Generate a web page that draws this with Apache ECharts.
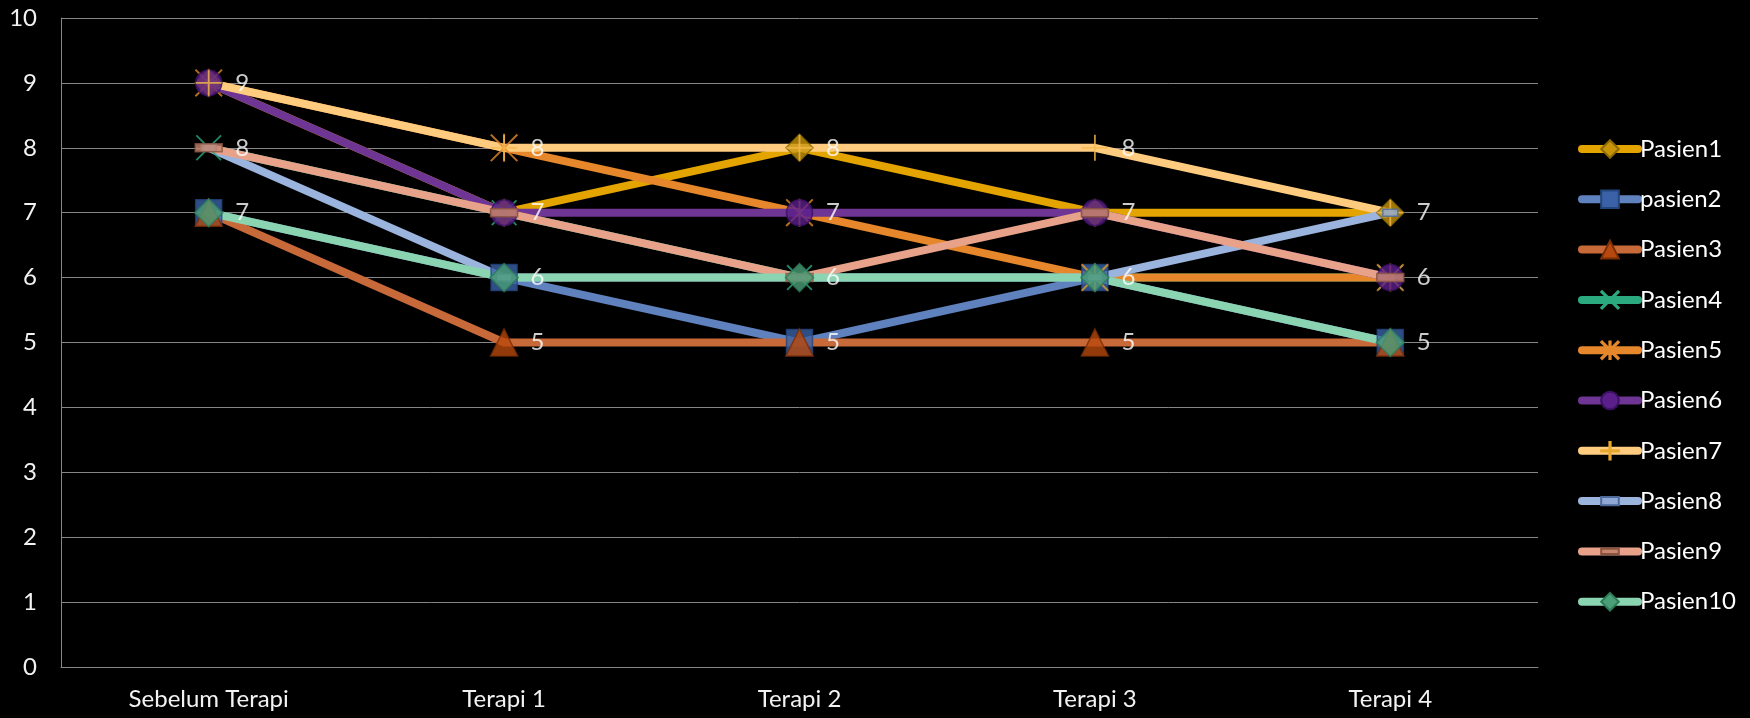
<!DOCTYPE html>
<html>
<head>
<meta charset="utf-8">
<script src="https://cdn.jsdelivr.net/npm/echarts@6/dist/echarts.min.js"></script>
<style>
html,body{margin:0;padding:0;background:#000;}
#chart{width:1750px;height:718px;}
</style>
</head>
<body>
<div id="chart"></div>
<script>
const categories = ['Sebelum Terapi', 'Terapi 1', 'Terapi 2', 'Terapi 3', 'Terapi 4'];
const yTicks = [0, 1, 2, 3, 4, 5, 6, 7, 8, 9, 10];

const seriesNames = ['Pasien1', 'pasien2', 'Pasien3', 'Pasien4', 'Pasien5', 'Pasien6', 'Pasien7', 'Pasien8', 'Pasien9', 'Pasien10'];
const pasien1 = [9, 7, 8, 7, 7];
const pasien2 = [7, 6, 5, 6, 5];
const pasien3 = [7, 5, 5, 5, 5];
const pasien4 = [8, 7, 6, 6, 6];
const pasien5 = [9, 8, 7, 6, 6];
const pasien6 = [9, 7, 7, 7, 6];
const pasien7 = [9, 8, 8, 8, 7];
const pasien8 = [8, 6, 6, 6, 7];
const pasien9 = [8, 7, 6, 7, 6];
const pasien10 = [7, 6, 6, 6, 5];
const allValues = [pasien1, pasien2, pasien3, pasien4, pasien5, pasien6, pasien7, pasien8, pasien9, pasien10];

const lineColors = ['#E3A400', '#5F82BE', '#C8693A', '#2BAA80', '#E5872A', '#6F3594', '#FFCC7F', '#9AB4DE', '#E8A28A', '#8AD4B2'];
const markerFill = ['#C8940A', '#3B62A6', '#B8480E', '#2BAA80', '#E5872A', '#5B1F8C', '#F5B94A', '#8FA9D4', '#C8866E', '#4A9E78'];
const markerBorder = ['#8B6A00', '#23467E', '#7A2E05', '#2BAA80', '#E5872A', '#3A1060', '#E8A830', '#4E6A9A', '#8A5540', '#2E7A58'];

const XPATH = 'path://M0,1 L1,0 L20,19 L19,20 Z M19,0 L20,1 L1,20 L0,19 Z';
const STARPATH = 'path://M0,1 L1,0 L20,19 L19,20 Z M19,0 L20,1 L1,20 L0,19 Z M9.3,0 H10.7 V20 H9.3 Z';
const PLUSPATH = 'path://M9.3,0 H10.7 V20 H9.3 Z M0,9.3 H20 V10.7 H0 Z';
const RECT8 = 'path://M0,-4 M0,0 H15 V7 H0 Z M0,11';
const RECT9 = 'path://M0,-9.5 M0,0 H27 V8 H0 Z M0,17.5';
const symbols = ['diamond', 'rect', 'triangle', XPATH, STARPATH, 'circle', PLUSPATH, RECT8, RECT9, 'diamond'];
const symbolSizes = [27, 26, 27, 26, 28, 26, 26, 15, 27, 28];

const FONT = 'Lato, "Liberation Sans", sans-serif';

const series = [];
allValues.forEach(function (vals, i) {
  series.push({
    name: seriesNames[i],
    type: 'line',
    data: vals,
    z: 2,
    showSymbol: false,
    symbol: symbols[i],
    lineStyle: { color: lineColors[i], width: 8, cap: 'round', join: 'round' },
    itemStyle: { color: markerFill[i], borderColor: markerBorder[i], borderWidth: 1 },
    emphasis: { disabled: true },
    animation: false
  });
});
allValues.forEach(function (vals, i) {
  const thin = (i === 3 || i === 4 || i === 6);
  series.push({
    name: seriesNames[i],
    type: 'scatter',
    data: vals.map(function (v, j) { return [j, v]; }),
    z: 3,
    symbol: symbols[i],
    symbolSize: symbolSizes[i],
    itemStyle: thin ? { color: markerFill[i] } : { color: markerFill[i], borderColor: markerBorder[i], borderWidth: 1.5 },
    emphasis: { disabled: true },
    animation: false
  });
});

// Data labels: one per distinct value at each category
const labelPoints = [];
categories.forEach(function (c, j) {
  const seen = {};
  allValues.forEach(function (vals) {
    if (!seen[vals[j]]) { seen[vals[j]] = true; labelPoints.push([j, vals[j]]); }
  });
});
series.push({
  name: 'labels',
  type: 'scatter',
  data: labelPoints,
  z: 4,
  symbolSize: 1,
  itemStyle: { color: 'rgba(0,0,0,0)' },
  label: {
    show: true, position: 'right', distance: 26,
    color: '#ffffff', fontSize: 24, fontFamily: FONT,
    formatter: function (p) { return p.value[1]; }
  },
  emphasis: { disabled: true },
  silent: true,
  animation: false
});

const chart = echarts.init(document.getElementById('chart'));
chart.setOption({
  backgroundColor: '#000000',
  animation: false,
  grid: { left: 61, right: 212, top: 18, bottom: 51 },
  legend: {
    data: seriesNames,
    orient: 'vertical',
    left: 1573,
    top: 132,
    itemWidth: 56,
    itemHeight: 22,
    itemGap: 26.3,
    lineStyle: { width: 8, cap: 'round' },
    textStyle: { color: '#ffffff', fontSize: 24, fontFamily: FONT, lineHeight: 22, padding: [0, 0, 0, -3] },
    selectedMode: false
  },
  xAxis: {
    type: 'category',
    data: categories,
    boundaryGap: true,
    axisLine: { lineStyle: { color: '#868686', width: 1 } },
    axisTick: { show: false },
    axisLabel: { color: '#f2f2f2', fontSize: 24, fontFamily: FONT, margin: 20 }
  },
  yAxis: {
    type: 'value',
    min: yTicks[0],
    max: yTicks[yTicks.length - 1],
    interval: 1,
    axisLine: { show: true, lineStyle: { color: '#868686', width: 1 } },
    axisTick: { show: false },
    splitLine: { lineStyle: { color: '#868686', width: 1 } },
    axisLabel: { color: '#f2f2f2', fontSize: 24, fontFamily: FONT, margin: 24 }
  },
  series: series
});
</script>
</body>
</html>
